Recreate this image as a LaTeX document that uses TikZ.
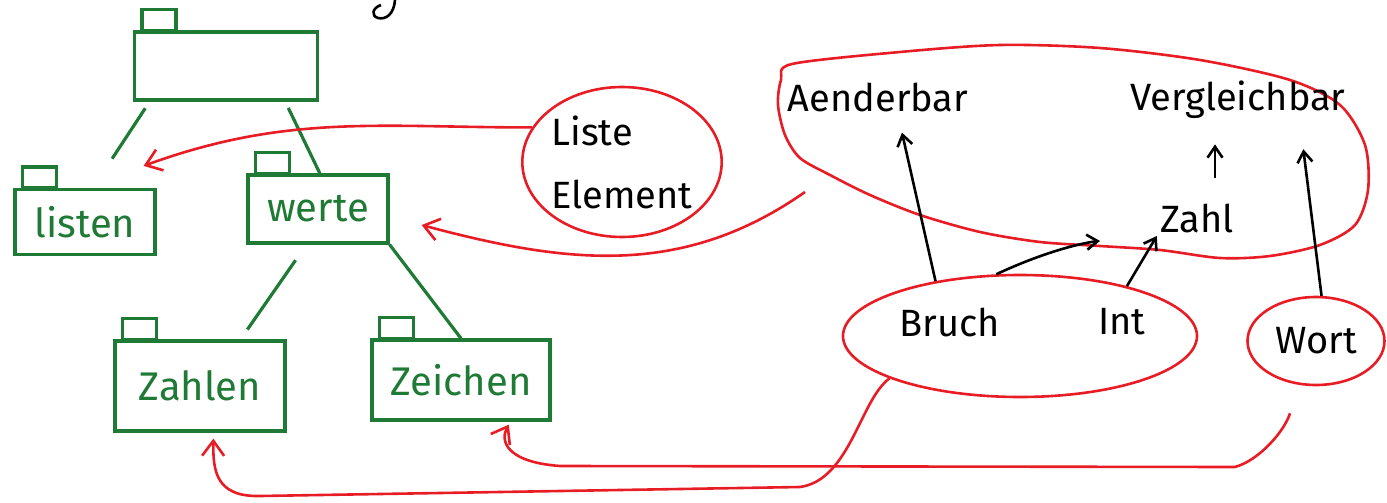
\documentclass[tikz,border=0pt]{standalone}
\usepackage{fontspec}
\setmainfont{Fira Sans}
\usetikzlibrary{arrows.meta,shapes.geometric}
\definecolor{pkggreen}{RGB}{30,122,52}
\definecolor{inkred}{RGB}{232,28,36}
\tikzstyle{pkg} = [rectangle, draw=pkggreen, line width=3.2pt, text=pkggreen, inner sep=0pt, font=\fontsize{40}{46}\selectfont]
\tikzstyle{tab} = [-, draw=pkggreen, line width=3.2pt]
\tikzstyle{tree} = [-, draw=pkggreen, line width=3.2pt]
\tikzstyle{grp} = [ellipse, draw=inkred, line width=2.6pt, inner sep=0pt]
\tikzstyle{redarr} = [-{Straight Barb[length=15pt,width=22pt]}, draw=inkred, line width=2.6pt]
\tikzstyle{inkarr} = [->, draw=black, line width=2.6pt]

\begin{document}
\begin{tikzpicture}[->,>={Straight Barb[length=11pt,width=15pt]},x=1pt,y=1pt,font=\fontsize{38}{44}\selectfont]
  \useasboundingbox (0,0) rectangle (1387,-503);

  % packages
  \node[pkg, minimum width=183pt, minimum height=68pt] (top) at (226,-66) {};
  \node[pkg, minimum width=140pt, minimum height=65pt] (listen) at (85,-222) {listen};
  \node[pkg, minimum width=140pt, minimum height=68pt] (werte) at (318,-209) {werte};
  \node[pkg, minimum width=170pt, minimum height=90pt] (zahlen) at (200,-386) {Zahlen};
  \node[pkg, minimum width=178pt, minimum height=80pt] (zeichen) at (461,-380) {Zeichen};
  \foreach \p in {top,listen,werte,zahlen,zeichen}
    \draw[tab] ([xshift=9pt]\p.north west) rectangle ++(34,21);

  \path (top.205) edge[tree, shorten <=8pt, shorten >=35pt] (listen.77);
  \path (top.-31) edge[tree, shorten <=7pt] (werte.87);
  \path (werte.252) edge[tree, shorten <=19pt, shorten >=12pt] (zahlen.49);
  \path (werte.south east) edge[tree] (zeichen.north);

  % red groups
  \node[grp, minimum width=196pt, minimum height=150pt, align=left] (liste) at (622,-162) {Liste\\[19pt]Element};
  \draw[-, draw=inkred, line width=2.6pt] plot[smooth cycle, tension=0.5] coordinates {
    (792,-64) (900,-52) (1000,-45) (1100,-48) (1200,-60) (1290,-80) (1340,-105)
    (1365,-145) (1368,-190) (1355,-225) (1320,-245) (1270,-256) (1220,-258)
    (1160,-250) (1100,-246) (1040,-242) (980,-232) (920,-215) (870,-195)
    (830,-175) (800,-158) (785,-135) (778,-105) (781,-80)};
  \coordinate (blobout) at (805,-192);
  \node (aenderbar) at (878,-97) {Aenderbar};
  \node (vergleichbar) at (1238,-100) {Vergleichbar};
  \node (zahl) at (1197,-218) {Zahl};

  \node[grp, minimum width=354pt, minimum height=122pt] (bruchint) at (1020,-336) {};
  \node (bruch) at (950,-323) {Bruch};
  \node (int) at (1122,-322) {Int};
  \node[grp, minimum width=137pt, minimum height=88pt] (wort) at (1316,-341) {Wort};

  % black arrows
  \path (bruchint.147) edge[inkarr, shorten >=18pt] ([xshift=20pt]aenderbar.south);
  \path (bruchint.111) edge[inkarr, out=25, in=185, shorten >=57pt] (zahl.south west);
  \path (bruchint.25) edge[inkarr] (zahl.south west);
  \path ([xshift=18pt]zahl.north) edge[inkarr, shorten <=22pt, shorten >=22pt] ([xshift=-23pt]vergleichbar.south);
  \path (wort.83) edge[inkarr, shorten >=27pt] ([xshift=62pt]vergleichbar.south);

  % red arrows
  \draw[redarr] (liste.159) to[out=180, in=20] ([shift={(-13,22)}]listen.north east);
  \draw[redarr] (blobout) to[out=215, in=-15] ([shift={(32,-16)}]werte.east);
  \draw[redarr] (bruchint.198) .. controls (860,-400) and (850,-480) .. (800,-487)
    -- (260,-496) .. controls (215,-497) and (213,-470) .. ([yshift=-6pt]zahlen.-74);
  \draw[redarr] ([shift={(-26,-27)}]wort.south) .. controls (1285,-430) and (1260,-460) .. (1235,-467)
    -- (560,-466) .. controls (505,-462) and (500,-440) .. ([yshift=-3pt]zeichen.-41);

  % cut-off stroke at the top
  \draw[-, line width=2.6pt] (395,0) .. controls (394,-14) and (386,-20) .. (378,-18)
    .. controls (371,-16) and (372,-8) .. (381,-5);
\end{tikzpicture}
\end{document}
